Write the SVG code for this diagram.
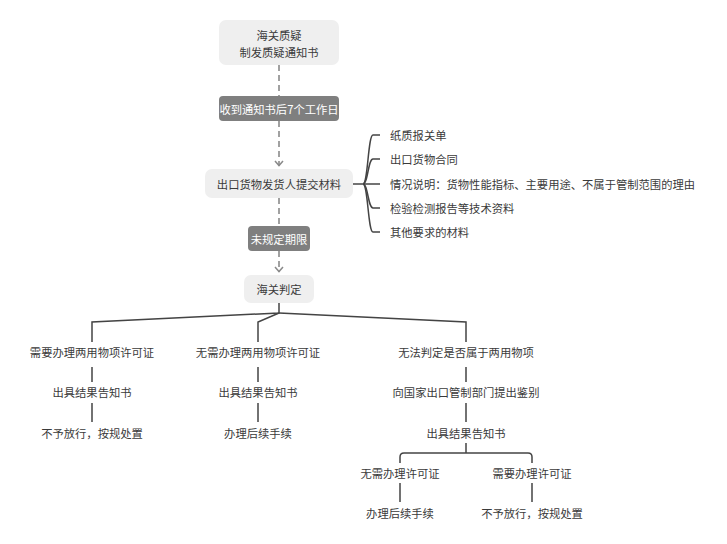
<svg xmlns="http://www.w3.org/2000/svg" width="727" height="544" viewBox="0 0 727 544">
<style>
text{font-family:"Noto Sans CJK SC","Liberation Sans",sans-serif;font-size:11.3px;fill:#3a3a3a;text-anchor:middle;dominant-baseline:central}
.l{text-anchor:start}
.w{fill:#ffffff}
.box{fill:#efefef}
.dark{fill:#7f7f7f}
.dash{stroke:#8a8a8a;stroke-width:1.6;stroke-dasharray:6 4;fill:none}
.ln{stroke:#444;stroke-width:1.5;fill:none}
.chev{stroke:#8a8a8a;stroke-width:1.5;fill:none}
</style>
<rect width="727" height="544" fill="#ffffff"/>
<g id="connectors">
<path class="dash" d="M279,65 V96"/>
<path class="dash" d="M279,121 V166"/>
<path class="chev" d="M275,161 L279,165.5 L283,161"/>
<path class="dash" d="M279,198 V226"/>
<path class="dash" d="M279,251 V272"/>
<path class="chev" d="M275,267 L279,271.5 L283,267"/>
<path class="ln" d="M353,184 H363"/>
<path class="ln" d="M363,184 C368,184 368,135 373,135 H380"/>
<path class="ln" d="M363,184 C368,184 368,159 373,159 H380"/>
<path class="ln" d="M363,184 H380"/>
<path class="ln" d="M363,184 C368,184 368,208 373,208 H380"/>
<path class="ln" d="M363,184 C368,184 368,232 373,232 H380"/>
<path class="ln" d="M279,303 V313 L92,322 V342"/>
<path class="ln" d="M279,313 L258,322 V342"/>
<path class="ln" d="M279,313 L466,322 V342"/>
<path class="ln" d="M92,367 V382 M92,403 V422"/>
<path class="ln" d="M258,367 V382 M258,403 V422"/>
<path class="ln" d="M466,367 V382 M466,403 V422 M466,443 V453"/>
<path class="ln" d="M400,463 V457 Q400,453 404,453 H528 Q532,453 532,457 V463"/>
<path class="ln" d="M400,483 V502 M532,483 V502"/>
</g>
<g id="n1"><rect class="box" x="219" y="20" width="120" height="45" rx="7"/><text x="279" y="35">海关质疑</text><text x="279" y="52">制发质疑通知书</text></g>
<g id="n2"><rect class="dark" x="219" y="96" width="120" height="25" rx="4"/><text class="w" x="279" y="108.5">收到通知书后7个工作日</text></g>
<g id="n3"><rect class="box" x="205" y="169" width="148" height="29" rx="7"/><text x="279" y="183.5">出口货物发货人提交材料</text></g>
<g id="m1"><text class="l" x="390" y="135">纸质报关单</text></g>
<g id="m2"><text class="l" x="390" y="159">出口货物合同</text></g>
<g id="m3"><text class="l" x="390" y="184">情况说明：货物性能指标、主要用途、不属于管制范围的理由</text></g>
<g id="m4"><text class="l" x="390" y="208">检验检测报告等技术资料</text></g>
<g id="m5"><text class="l" x="390" y="232">其他要求的材料</text></g>
<g id="n4"><rect class="dark" x="248" y="226" width="62" height="25" rx="4"/><text class="w" x="279" y="238.5">未规定期限</text></g>
<g id="n5"><rect class="box" x="244" y="275" width="70" height="28" rx="7"/><text x="279" y="289">海关判定</text></g>
<g id="a1"><text x="92" y="352">需要办理两用物项许可证</text></g>
<g id="a2"><text x="92" y="392">出具结果告知书</text></g>
<g id="a3"><text x="92" y="433">不予放行，按规处置</text></g>
<g id="b1"><text x="258" y="352">无需办理两用物项许可证</text></g>
<g id="b2"><text x="258" y="392">出具结果告知书</text></g>
<g id="b3"><text x="258" y="433">办理后续手续</text></g>
<g id="c1"><text x="466" y="352">无法判定是否属于两用物项</text></g>
<g id="c2"><text x="466" y="392">向国家出口管制部门提出鉴别</text></g>
<g id="c3"><text x="466" y="433">出具结果告知书</text></g>
<g id="c4"><text x="400" y="473">无需办理许可证</text></g>
<g id="c5"><text x="532" y="473">需要办理许可证</text></g>
<g id="c6"><text x="400" y="513">办理后续手续</text></g>
<g id="c7"><text x="532" y="513">不予放行，按规处置</text></g>
</svg>
